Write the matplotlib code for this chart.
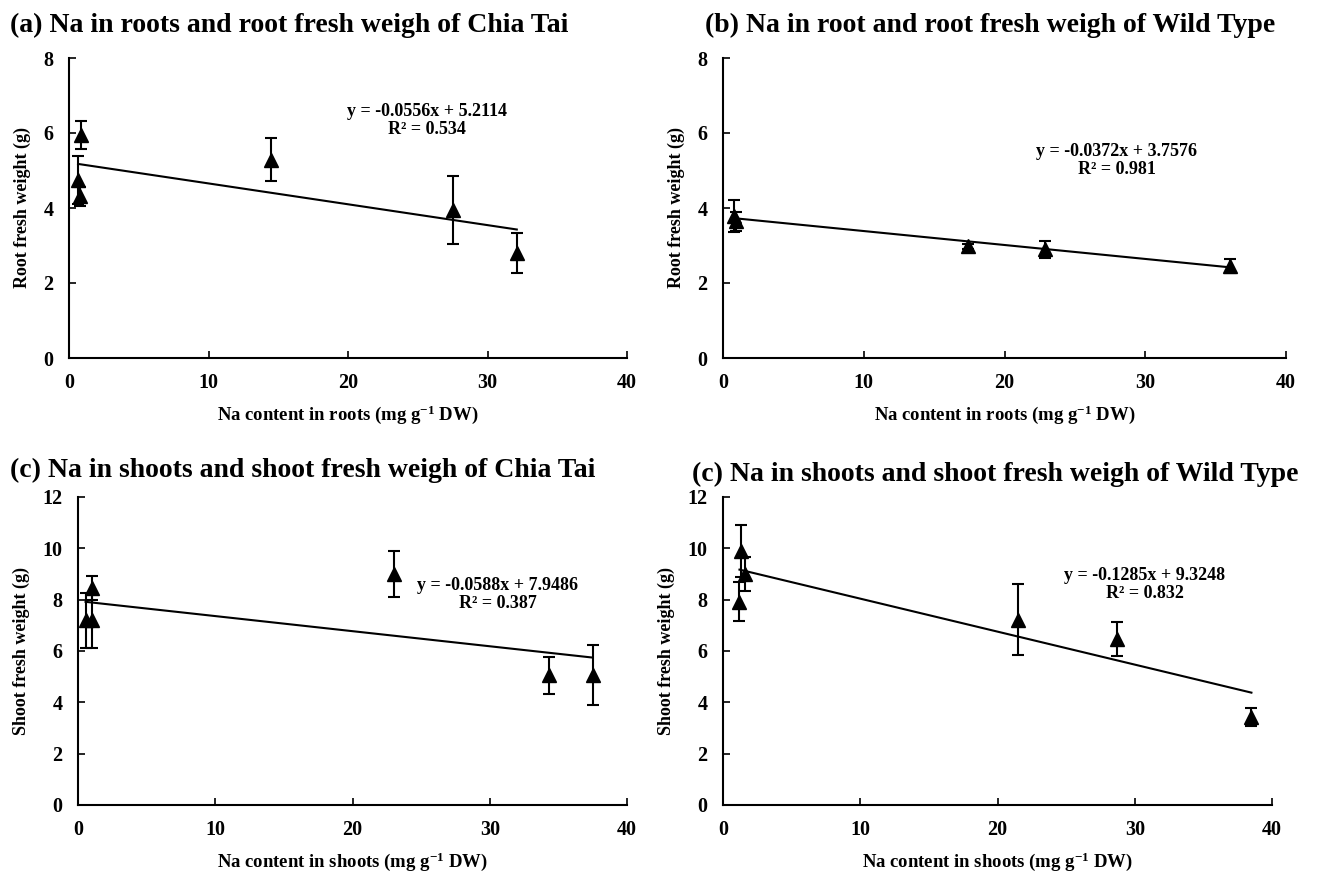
import numpy as np
import matplotlib
matplotlib.use("Agg")
import matplotlib.pyplot as plt

plt.rcParams['font.family'] = ['Liberation Serif', 'DejaVu Serif']
plt.rcParams['font.weight'] = 'bold'
plt.rcParams['mathtext.fontset'] = 'custom'
plt.rcParams['mathtext.bf'] = 'Liberation Serif:bold'
plt.rcParams['mathtext.rm'] = 'Liberation Serif:bold'
plt.rcParams['mathtext.default'] = 'bf'

# (a) Chia Tai, roots
a_x = [0.86, 0.65, 0.79, 14.5, 27.5, 32.1]
a_y = [5.95, 4.75, 4.31, 5.29, 3.95, 2.80]
a_err = [0.38, 0.65, 0.25, 0.58, 0.91, 0.53]
a_fit = (-0.0556, 5.2114, 0.534)

# (b) Wild Type, roots
b_x = [0.8, 0.9, 17.4, 22.9, 36.0]
b_y = [3.78, 3.65, 2.98, 2.90, 2.45]
b_err = [0.43, 0.25, 0.07, 0.22, 0.18]
b_fit = (-0.0372, 3.7576, 0.981)

# (c) Chia Tai, shoots
c_x = [0.55, 1.0, 1.05, 23.0, 34.3, 37.5]
c_y = [7.2, 7.2, 8.45, 9.0, 5.05, 5.05]
c_err = [1.07, 1.07, 0.48, 0.9, 0.73, 1.17]
c_fit = (-0.0588, 7.9486, 0.387)

# (d) Wild Type, shoots
d_x = [1.2, 1.3, 1.6, 21.5, 28.7, 38.5]
d_y = [7.92, 9.9, 9.0, 7.22, 6.47, 3.43]
d_err = [0.76, 1.0, 0.65, 1.38, 0.67, 0.34]
d_fit = (-0.1285, 9.3248, 0.832)

W, H = 1324, 873
fig = plt.figure(figsize=(W / 100, H / 100), dpi=100)


def px_axes(l, r, t, b):
    return fig.add_axes([l / W, 1 - b / H, (r - l) / W, (b - t) / H])


panels = [
    dict(box=(69, 627, 58, 358), x=a_x, y=a_y, e=a_err, fit=a_fit, ymax=8, ystep=2,
         title='(a) Na in roots and root fresh weigh of Chia Tai', tpos=(10, 25),
         xl='Na content in roots (mg g$^{-1}$ DW)', yl='Root fresh weight (g)', eq=(427, 112)),
    dict(box=(723, 1286, 58, 358), x=b_x, y=b_y, e=b_err, fit=b_fit, ymax=8, ystep=2,
         title='(b) Na in root and root fresh weigh of Wild Type', tpos=(705, 25),
         xl='Na content in roots (mg g$^{-1}$ DW)', yl='Root fresh weight (g)', eq=(1117, 152)),
    dict(box=(78, 627, 497, 805), x=c_x, y=c_y, e=c_err, fit=c_fit, ymax=12, ystep=2,
         title='(c) Na in shoots and shoot fresh weigh of Chia Tai', tpos=(10, 470),
         xl='Na content in shoots (mg g$^{-1}$ DW)', yl='Shoot fresh weight (g)', eq=(498, 586)),
    dict(box=(723, 1272, 497, 805), x=d_x, y=d_y, e=d_err, fit=d_fit, ymax=12, ystep=2,
         title='(c) Na in shoots and shoot fresh weigh of Wild Type', tpos=(692, 474),
         xl='Na content in shoots (mg g$^{-1}$ DW)', yl='Shoot fresh weight (g)', eq=(1145, 575)),
]

for p in panels:
    ax = px_axes(*p['box'])
    x = np.array(p['x'])
    slope, inter, r2 = p['fit']
    ax.errorbar(x, p['y'], yerr=p['e'], fmt='^', color='black', ms=10,
                ecolor='black', elinewidth=1.5, capsize=4, capthick=1.5, zorder=3)
    xs = np.array([x.min(), x.max()])
    ax.plot(xs, slope * xs + inter, color='black', lw=1.5, zorder=2)
    ax.set_xlim(0, 40)
    ax.set_ylim(0, p['ymax'])
    ax.set_xticks(np.arange(0, 41, 10))
    ax.set_yticks(np.arange(0, p['ymax'] + 1, p['ystep']))
    for s in ['top', 'right']:
        ax.spines[s].set_visible(False)
    for s in ['left', 'bottom']:
        ax.spines[s].set_linewidth(1.5)
    ax.tick_params(direction='in', length=5, width=1.2, labelsize=14.5, pad=11)
    ax.set_xlabel(p['xl'], fontsize=13.5, fontweight='bold', labelpad=7)
    ax.set_ylabel(p['yl'], fontsize=13, fontweight='bold', labelpad=9)
    fig.text(p['tpos'][0] / W, 1 - p['tpos'][1] / H, p['title'], fontsize=20,
             fontweight='bold', ha='left', va='center')
    ex, ey = p['eq']
    fig.text(ex / W, 1 - ey / H, 'y = %.4fx + %.4f' % (slope, inter), fontsize=13,
             fontweight='bold', ha='center', va='center')
    fig.text(ex / W, 1 - (ey + 18) / H, 'R² = %.3f' % r2, fontsize=13,
             fontweight='bold', ha='center', va='center')

fig.savefig('out.png', dpi=100)
